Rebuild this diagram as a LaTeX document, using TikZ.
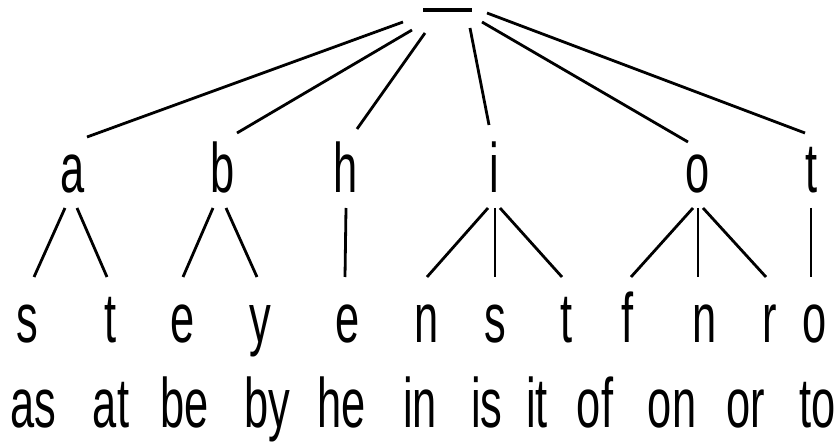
\documentclass[tikz,border=0pt]{standalone}
\usepackage{fontspec}
\newfontfamily\triefont{Liberation Sans}[FakeStretch=0.62]
\usetikzlibrary{positioning}

\begin{document}
\begin{tikzpicture}[
  x=1pt, y=-1pt,
  every node/.style={font=\triefont\fontsize{70}{70}\selectfont, inner sep=0pt, anchor=base},
  rootbar/.style={fill=black, minimum width=49pt, minimum height=4pt, anchor=center},
  link/.style={line width=2.8pt}
]
\useasboundingbox (0,0) rectangle (838,443);
\node[rootbar] (root) at (447,10) {};

% first letter
\node (a) at ( 73,193) {a};
\node (b) at (223,193) {b};
\node (h) at (346,193) {h};
\node (i) at (494,193) {i};
\node (o) at (698,193) {o};
\node (t) at (812,193) {t};

% second letter, named by the word
\node (as) at ( 27,343) {s};
\node (at) at (111,343) {t};
\node (be) at (183,343) {e};
\node (by) at (260,343) {y};
\node (he) at (348,343) {e};
\node (in) at (427,343) {n};
\node (is) at (495,343) {s};
\node (it) at (567,343) {t};
\node (of) at (628,343) {f};
\node (on) at (705,343) {n};
\node (or) at (770,343) {r};
\node (to) at (815,343) {o};

% words
\foreach \w/\x in {as/33, at/111, be/185, by/267, he/342, in/420,
                   is/487, it/537, of/595, on/672, or/746, to/818}
  \node (w-\w) at (\x,428) {\w};

\foreach \c/\sx/\sy/\ex/\ey in {a/-44/12/14/-56, b/-35/20/14/-60, h/-22/23/11/-64,
                                i/23/18/-5/-68, o/35/12/-10/-51, t/40/3/-7/-60}
  \draw[link] ([shift={(\sx,\sy)}]root.center) -- ([shift={(\ex,\ey)}]\c.base);

\foreach \p/\c/\sx/\ex in {a/as/-8/7, a/at/4/-4, b/be/-10/0, b/by/3/-3, h/he/0/-3,
                           i/in/-6/0, i/is/1/0, i/it/6/-5,
                           o/of/-5/3, o/on/0/-7, o/or/5/-4, t/to/-1/-4}
  \draw[link] ([shift={(\sx,15)}]\p.base) -- ([shift={(\ex,-66)}]\c.base);
\end{tikzpicture}
\end{document}
